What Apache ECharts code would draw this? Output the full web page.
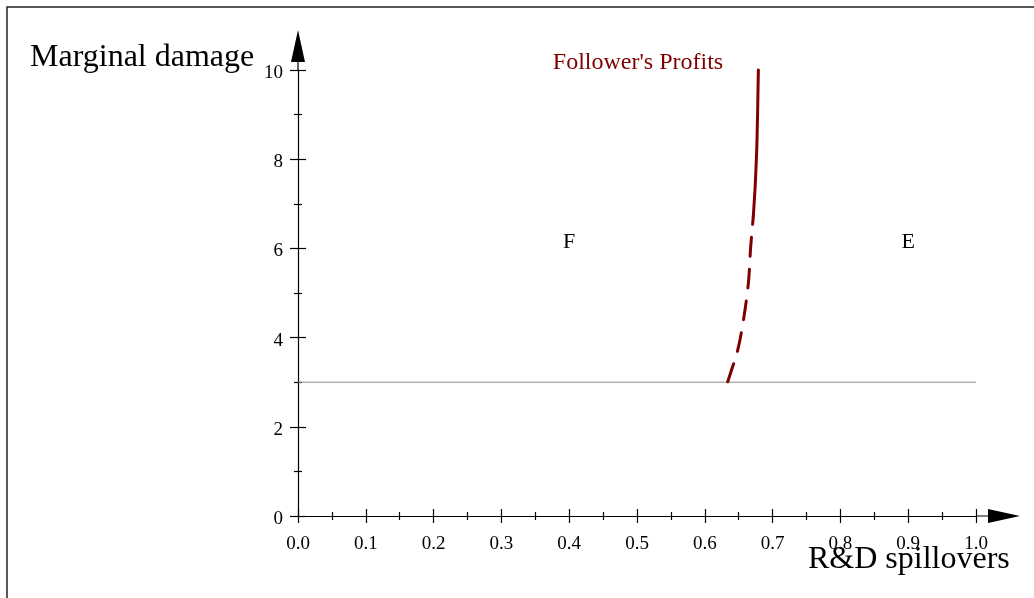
<!DOCTYPE html>
<html>
<head>
<meta charset="utf-8">
<script src="https://cdn.jsdelivr.net/npm/echarts@6/dist/echarts.min.js"></script>
<style>
  html, body { margin: 0; padding: 0; background: #fff; }
  #chart { width: 1034px; height: 598px; }
</style>
</head>
<body>
<div id="chart"></div>
<script>
// Follower's profit boundary (dashed lower part, solid upper part)
const curveLowX = [0.6338, 0.640, 0.646, 0.6519, 0.6593, 0.6647, 0.6677, 0.6715];
const curveLowY = [3.01, 3.30, 3.57, 3.95, 4.62, 5.29, 6.04, 6.71];
const curveHighX = [0.6715, 0.6745, 0.6770, 0.6790];
const curveHighY = [6.71, 7.46, 8.43, 10.0];

// Horizontal marginal-damage level
const levelX = [0.0, 1.0];
const levelY = [3.0, 3.0];

// Region and curve annotations
const noteX = [0.4, 0.9, 0.5015];
const noteY = [6.14, 6.14, 10.16];
const noteText = ['F', 'E', "Follower's Profits"];

// Axis ticks
const xTicks = { min: 0, max: 1, step: 0.1 };
const yTicks = { min: 0, max: 10, step: 2 };

const FONT = 'Liberation Serif';
const DARKRED = '#800000';

const zip = (xs, ys) => xs.map((x, i) => [x, ys[i]]);

const xArrow = 'path://M7,0 L14,32 L7.6,32 L7.6,44 L6.4,44 L6.4,32 L0,32 Z';
const yArrow = 'path://M7,0 L14,32 L7.6,32 L7.6,40 L6.4,40 L6.4,32 L0,32 Z';

function xAxisCfg(inside) {
  return {
    type: 'value',
    min: xTicks.min, max: xTicks.max, interval: xTicks.step,
    position: 'bottom',
    axisLine: inside ? { show: false } : {
      show: true,
      lineStyle: { color: '#000', width: 1.2 },
      symbol: ['none', xArrow], symbolSize: [14, 44], symbolOffset: [0, 22]
    },
    axisTick: { show: true, inside: inside, length: 7, lineStyle: { color: '#000', width: 1.2 } },
    minorTick: { show: true, splitNumber: 2, length: 4, lineStyle: { color: '#000', width: 1.2 } },
    axisLabel: inside ? { show: false } : {
      show: true, margin: 19, color: '#000', fontFamily: FONT, fontSize: 19,
      formatter: v => v.toFixed(1)
    },
    splitLine: { show: false }
  };
}

function yAxisCfg(inside) {
  return {
    type: 'value',
    min: yTicks.min, max: yTicks.max, interval: yTicks.step,
    position: 'left',
    axisLine: inside ? { show: false } : {
      show: true,
      lineStyle: { color: '#000', width: 1.2 },
      symbol: ['none', yArrow], symbolSize: [14, 40], symbolOffset: [0, 20]
    },
    axisTick: { show: true, inside: inside, length: 8, lineStyle: { color: '#000', width: 1.2 } },
    minorTick: { show: true, splitNumber: 2, length: 4, lineStyle: { color: '#000', width: 1.2 } },
    axisLabel: inside ? { show: false } : {
      show: true, margin: 15, color: '#000', fontFamily: FONT, fontSize: 19,
      verticalAlign: 'top', lineHeight: 6
    },
    splitLine: { show: false }
  };
}

const noteStyles = [
  { color: '#000', size: 22 },
  { color: '#000', size: 22 },
  { color: DARKRED, size: 24 }
];

const chart = echarts.init(document.getElementById('chart'), null, { renderer: 'canvas' });
chart.setOption({
  animation: false,
  backgroundColor: '#fff',
  textStyle: { fontFamily: FONT },
  grid: { left: 298, right: 58, top: 70, bottom: 82, containLabel: false },
  xAxis: [xAxisCfg(false), xAxisCfg(true)],
  yAxis: [yAxisCfg(false), yAxisCfg(true)],
  graphic: [
    {
      type: 'rect', silent: true,
      shape: { x: 7, y: 7, width: 1200, height: 800 },
      style: { fill: 'none', stroke: '#222', lineWidth: 1.5 }
    },
    {
      type: 'text', silent: true, x: 30, y: 58,
      style: { text: 'Marginal damage', font: '32px "Liberation Serif"', fill: '#000', verticalAlign: 'middle', align: 'left' }
    },
    {
      type: 'text', silent: true, x: 808, y: 560,
      style: { text: 'R&D spillovers', font: '32px "Liberation Serif"', fill: '#000', verticalAlign: 'middle', align: 'left' }
    }
  ],
  series: [
    {
      type: 'line', xAxisIndex: 0, yAxisIndex: 0,
      data: zip(levelX, levelY), symbol: 'none', silent: true, z: 1,
      lineStyle: { color: '#8c8c8c', width: 1 }
    },
    {
      type: 'line', xAxisIndex: 0, yAxisIndex: 0,
      data: zip(curveLowX, curveLowY), symbol: 'none', silent: true, clip: false, smooth: 0.3,
      lineStyle: { color: DARKRED, width: 3, type: [19, 13], cap: 'round' }
    },
    {
      type: 'line', xAxisIndex: 0, yAxisIndex: 0,
      data: zip(curveHighX, curveHighY), symbol: 'none', silent: true, clip: false, smooth: 0.3,
      lineStyle: { color: DARKRED, width: 3, cap: 'round' }
    },
    {
      type: 'custom', xAxisIndex: 0, yAxisIndex: 0, silent: true, clip: false,
      data: noteX.map((x, i) => [x, noteY[i], i]),
      renderItem: function (params, api) {
        const i = api.value(2);
        const p = api.coord([api.value(0), api.value(1)]);
        return {
          type: 'text',
          x: p[0], y: p[1],
          style: {
            text: noteText[i],
            fill: noteStyles[i].color,
            font: noteStyles[i].size + 'px "Liberation Serif"',
            align: 'center', verticalAlign: 'middle'
          }
        };
      }
    }
  ]
});
</script>
</body>
</html>
